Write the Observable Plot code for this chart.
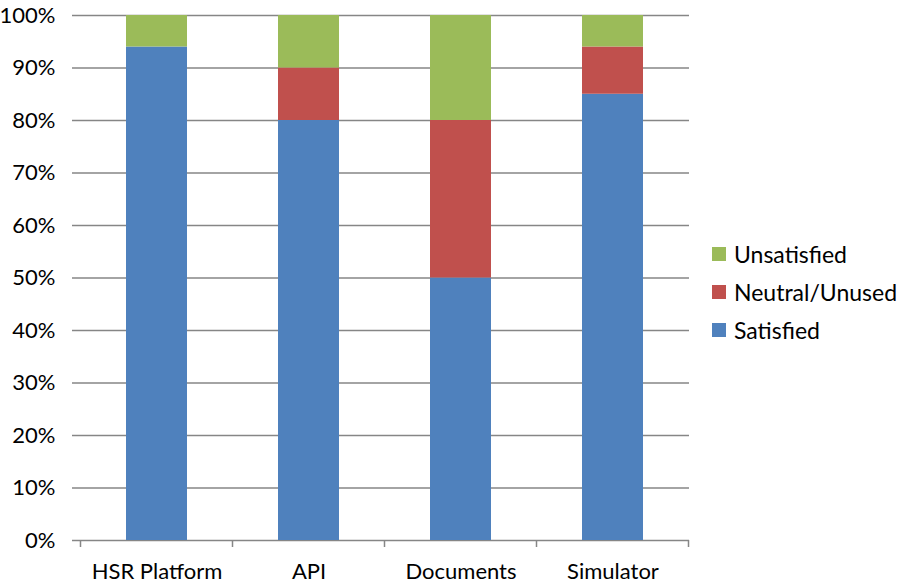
<!DOCTYPE html>
<html>
<head>
<meta charset="utf-8">
<script src="https://cdn.jsdelivr.net/npm/d3@7"></script>
<script src="https://cdn.jsdelivr.net/npm/@observablehq/plot@0.6"></script>
<style>
  html, body { margin: 0; padding: 0; background: #fff; }
  #wrap { position: relative; width: 898px; height: 587px; font-family: Lato, "Open Sans", sans-serif; }
  #legend { position: absolute; left: 712px; top: 235px; font-size: 23px; color: #000; }
  .item { display: flex; align-items: center; height: 38px; }
  .sw { width: 14px; height: 14px; margin-right: 8px; }
</style>
</head>
<body>
<div id="wrap"><div id="chart"></div><div id="legend"></div></div>
<script>
const categories = ["HSR Platform", "API", "Documents", "Simulator"];
const series = ["Satisfied", "Neutral/Unused", "Unsatisfied"];
const satisfied = [0.94, 0.80, 0.50, 0.85];
const neutral = [0.00, 0.10, 0.30, 0.09];
const unsatisfied = [0.06, 0.10, 0.20, 0.06];
const colors = ["#4F81BD", "#C0504D", "#9BBB59"];
const yTicks = [0, 0.1, 0.2, 0.3, 0.4, 0.5, 0.6, 0.7, 0.8, 0.9, 1.0];

const valuesBySeries = [satisfied, neutral, unsatisfied];
const data = [];
series.forEach((s, si) => categories.forEach((c, ci) => data.push({cat: c, series: s, value: valuesBySeries[si][ci]})));

const gridColor = "#868686";

// boundary ticks between categories on the x axis
function boundaryTicks(index, scales, values, dims) {
  const x = scales.x, y = scales.y;
  const step = x.step();
  const y0 = y(0);
  const g = d3.create("svg:g");
  const xs = categories.map(c => x(c) - (step - x.bandwidth()) / 2);
  xs.push(x(categories[categories.length - 1]) + x.bandwidth() + (step - x.bandwidth()) / 2);
  for (const px of xs) {
    g.append("line").attr("x1", px).attr("x2", px).attr("y1", y0).attr("y2", y0 + 7)
      .attr("stroke", gridColor).attr("stroke-width", 1.5);
  }
  return g.node();
}

const chart = Plot.plot({
  width: 898,
  height: 587,
  marginLeft: 79,
  marginRight: 209,
  marginTop: 15,
  marginBottom: 47,
  style: {fontFamily: "Lato, 'Open Sans', sans-serif", fontSize: "22px", color: "#000", background: "#fff"},
  x: {domain: categories, paddingInner: 0.6, paddingOuter: 0.3},
  y: {domain: [0, 1]},
  color: {domain: series, range: colors},
  marks: [
    Plot.ruleY(yTicks, {y: d => d, stroke: gridColor, strokeWidth: 1.5, strokeOpacity: 1}),
    Plot.barY(data, {x: "cat", y: "value", fill: "series"}),
    Plot.ruleX([0], {stroke: gridColor, strokeWidth: 1.5, y1: 0, y2: 1}),
    Plot.axisY({ticks: yTicks, tickFormat: d3.format(".0%"), tickSize: 7, tickPadding: 17, stroke: gridColor, strokeWidth: 1.5, strokeOpacity: 1, fontSize: 22, label: null}),
    Plot.axisX({tickSize: 0, tickPadding: 23, fontSize: 22, label: null}),
    boundaryTicks
  ]
});
document.getElementById("chart").appendChild(chart);

const legend = document.getElementById("legend");
for (let i = series.length - 1; i >= 0; i--) {
  const it = document.createElement("div");
  it.className = "item";
  const sw = document.createElement("div");
  sw.className = "sw";
  sw.style.background = colors[i];
  const t = document.createElement("span");
  t.textContent = series[i];
  it.appendChild(sw); it.appendChild(t);
  legend.appendChild(it);
}
</script>
</body>
</html>
